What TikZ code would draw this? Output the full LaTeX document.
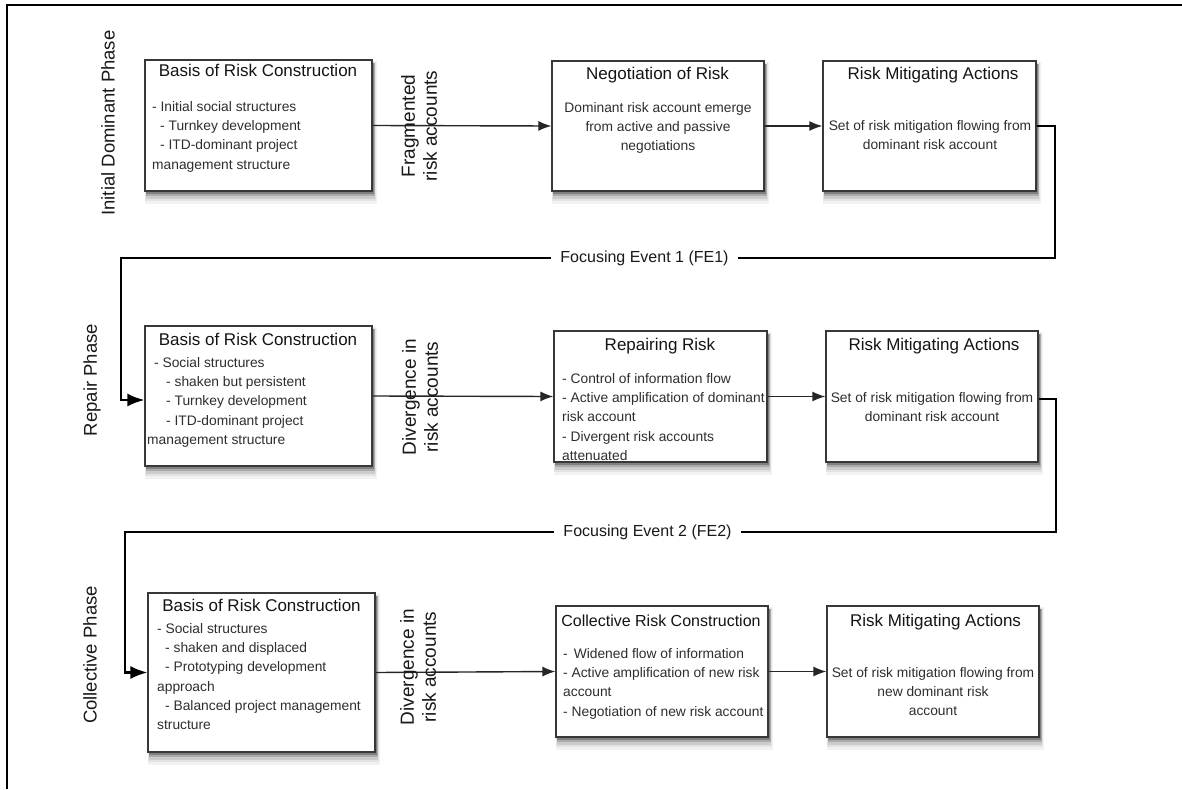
\documentclass[tikz,border=0pt]{standalone}
\usepackage{fontspec}
\setmainfont{Liberation Sans}
\usetikzlibrary{arrows.meta}
\pgfdeclarelayer{paper}
\pgfdeclarelayer{shade}
\pgfsetlayers{paper,shade,main}
\begin{document}
\begin{tikzpicture}[x=1pt,y=-1pt,
  box/.style={draw=black!78,line width=1.2pt,fill=white,inner sep=0pt},
  ttl/.style={font=\fontsize{17}{20}\selectfont,anchor=base,inner sep=0pt,text=black!92},
  body/.style={font=\fontsize{13.8}{19.3}\selectfont,anchor=north west,inner sep=0pt,align=left,text=black!82},
  bodyc/.style={body,anchor=north,align=center},
  rlab/.style={font=\fontsize{19}{22}\selectfont,rotate=90,align=center,inner sep=0pt,text=black!90},
  phase/.style={font=\fontsize{18.5}{22}\selectfont,rotate=90,inner sep=0pt,text=black!90},
  flow/.style={line width=1.4pt,draw=black!85,-{Latex[length=13pt,width=10pt]}},
  fe/.style={line width=2.2pt,-{Latex[length=17pt,width=13pt]}},
  felab/.style={font=\fontsize{16}{19}\selectfont,fill=white,inner xsep=9pt,inner ysep=3pt,text=black!90}
]
\useasboundingbox (0,0) rectangle (1182,789);
\begin{pgfonlayer}{paper}
\fill[white] (0,0) rectangle (1182,789);
\end{pgfonlayer}
% frame
\draw[line width=2.5pt] (7,789) -- (7,5) -- (1182,5);

% ---------- boxes ----------
\node[box,minimum width=227pt,minimum height=131pt] (A1) at (258.5,125.5) {};
\node[box,minimum width=212pt,minimum height=130pt] (B1) at (658,126) {};
\node[box,minimum width=213pt,minimum height=130pt] (C1) at (929.5,126) {};
\node[box,minimum width=227pt,minimum height=140pt] (A2) at (258.5,396) {};
\node[box,minimum width=213pt,minimum height=131pt] (B2) at (660.5,396.5) {};
\node[box,minimum width=212pt,minimum height=131pt] (C2) at (932,396.5) {};
\node[box,minimum width=227pt,minimum height=159pt] (A3) at (261.5,672.5) {};
\node[box,minimum width=212pt,minimum height=131pt] (B3) at (662,671.5) {};
\node[box,minimum width=212pt,minimum height=131pt] (C3) at (933,671.5) {};

% ---------- shadows ----------
\begin{pgfonlayer}{shade}
\foreach \n in {A1,B1,C1,A2,B2,C2,A3,B3,C3}{
  \fill[black!5]  ([xshift=1pt,yshift=-12pt]\n.south west) rectangle ([xshift=4pt,yshift=-2pt]\n.north east);
  \fill[black!11] ([xshift=1pt,yshift=-9.5pt]\n.south west) rectangle ([xshift=3pt,yshift=-3pt]\n.north east);
  \fill[black!20] ([xshift=1.5pt,yshift=-7pt]\n.south west) rectangle ([xshift=2.5pt,yshift=-4pt]\n.north east);
  \fill[black!33] ([xshift=2pt,yshift=-4.5pt]\n.south west) rectangle ([xshift=2pt,yshift=-4pt]\n.north east);
  \fill[black!50] ([xshift=2pt,yshift=-2.5pt]\n.south west) rectangle ([xshift=1.5pt,yshift=-4pt]\n.north east);
}
\end{pgfonlayer}

% ---------- titles ----------
\node[ttl] (tA1) at (258,77) {Basis of Risk Construction};
\node[ttl] (tB1) at (657.5,80) {Negotiation of Risk};
\node[ttl] (tC1) at (933,80) {Risk Mitigating Actions};
\node[ttl] (tA2) at (258,345) {Basis of Risk Construction};
\node[ttl] (tB2) at (660,350) {Repairing Risk};
\node[ttl] (tC2) at (934,350) {Risk Mitigating Actions};
\node[ttl] (tA3) at (261.5,611) {Basis of Risk Construction};
\node[ttl,font=\fontsize{16}{20}\selectfont] (tB3) at (661,626) {Collective Risk Construction};
\node[ttl] (tC3) at (935.5,626) {Risk Mitigating Actions};

% ---------- bodies ----------
\node[body] (bA1) at (152,101) {- Initial social structures\\
  \hspace*{8pt}- Turnkey development\\
  \hspace*{8pt}- ITD-dominant project\\
  management structure};
\node[bodyc] (bB1) at (658,102) {Dominant risk account emerge\\from active and passive\\negotiations};
\node[bodyc] (bC1) at (930,120) {Set of risk mitigation flowing from\\dominant risk account};

\node[body] (bA2) at (147,357) {\hspace*{7pt}- Social structures\\
  \hspace*{19pt}- shaken but persistent\\
  \hspace*{19pt}- Turnkey development\\
  \hspace*{19pt}- ITD-dominant project\\
  management structure};
\node[body] (bB2) at (562,373) {- Control of information flow\\
  - Active amplification of dominant\\
  risk account\\
  - Divergent risk accounts\\
  attenuated};
\node[bodyc] (bC2) at (932,392) {Set of risk mitigation flowing from\\dominant risk account};

\node[body] (bA3) at (157,623) {- Social structures\\
  \hspace*{8pt}- shaken and displaced\\
  \hspace*{8pt}- Prototyping development\\
  approach\\
  \hspace*{8pt}- Balanced project management\\
  structure};
\node[body] (bB3) at (563,648) {-\hspace*{6pt}Widened flow of information\\
  - Active amplification of new risk\\
  account\\
  - Negotiation of new risk account};
\node[bodyc] (bC3) at (933,667) {Set of risk mitigation flowing from\\new dominant risk\\account};

% ---------- phase labels ----------
\node[phase] (p1) at (108,123) {Initial Dominant Phase};
\node[phase] (p2) at (92,380) {Repair Phase};
\node[phase] (p3) at (90,655) {Collective Phase};

% ---------- row connectors ----------
\draw[flow] (A1.east) -- (B1.west);
\draw[flow] (B1.east) -- (C1.west);
\draw[flow] (A2.east) -- (B2.west);
\draw[flow] (B2.east) -- (C2.west);
\draw[flow] (A3.east) -- (B3.west);
\draw[flow] (B3.east) -- (C3.west);

\node[rlab] (r1) at (419,126) {Fragmented\\risk accounts};
\node[rlab] (r2) at (420,397) {Divergence in\\risk accounts};
\node[rlab] (r3) at (418,667) {Divergence in\\risk accounts};

% ---------- focusing events ----------
\coordinate (f1a) at (1055,126);
\coordinate (f1b) at (1055,258);
\coordinate (f1c) at (121,258);
\coordinate (f1d) at (121,400);
\draw[fe] (C1.east) -- (f1a) -- (f1b) -- (f1c) -- (f1d) -- ([yshift=-4pt]A2.west);
\node[felab] (fe1) at (644.5,258) {Focusing Event 1 (FE1)};

\coordinate (f2a) at (1056,399);
\coordinate (f2b) at (1056,532);
\coordinate (f2c) at (125,532);
\coordinate (f2d) at (125,672.5);
\draw[fe] ([yshift=-2.5pt]C2.east) -- (f2a) -- (f2b) -- (f2c) -- (f2d) -- (A3.west);
\node[felab] (fe2) at (647.5,532) {Focusing Event 2 (FE2)};
\end{tikzpicture}
\end{document}
